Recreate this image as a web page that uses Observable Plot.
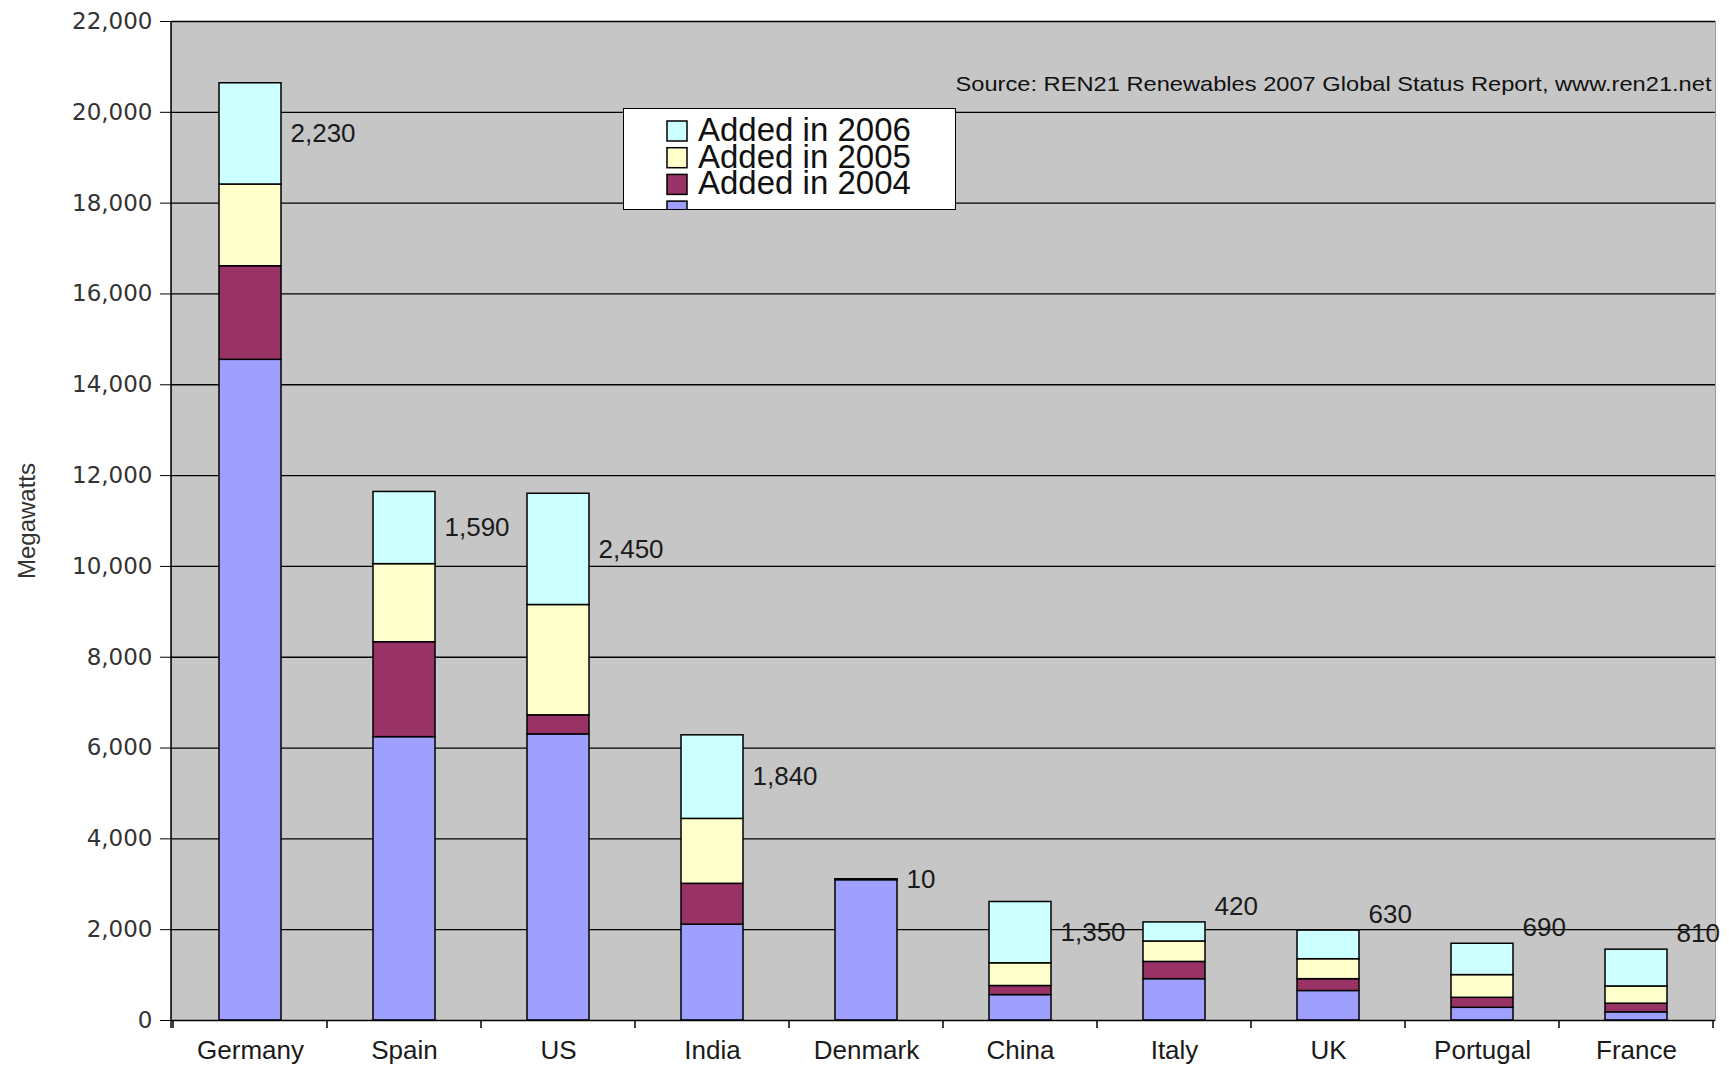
<!DOCTYPE html>
<html><head><meta charset="utf-8">
<script src="https://cdn.jsdelivr.net/npm/d3@7"></script>
<script src="https://cdn.jsdelivr.net/npm/@observablehq/plot@0.6"></script>
<style>
html,body{margin:0;padding:0;background:#fff;}
#wrap{position:relative;width:1729px;height:1067px;overflow:hidden;}
#legend{position:absolute;left:623px;top:108px;width:333px;height:102px;box-sizing:border-box;background:#fff;border:1.5px solid #000;overflow:hidden;}
</style></head>
<body><div id="wrap"><div id="legend"></div></div>
<script>
// ---- data ----
const countries   = ["Germany","Spain","US","India","Denmark","China","Italy","UK","Portugal","France"];
const existing2003 = [14550, 6240, 6300, 2110, 3090, 560, 910, 650, 280, 180];
const added2004    = [ 2060, 2090,  420,  900,   10, 200, 380, 260, 220, 190];
const added2005    = [ 1800, 1720, 2430, 1430,    0, 500, 450, 440, 500, 380];
const added2006    = [ 2230, 1590, 2450, 1840,   10,1350, 420, 630, 690, 810];
const seriesNames  = ["Existing end of 2003","Added in 2004","Added in 2005","Added in 2006"];
const seriesColors = ["#9f9fff","#993366","#ffffcc","#ccffff"];
const yTicks = d3.range(0, 22001, 2000);
const sourceText = "Source: REN21 Renewables 2007 Global Status Report, www.ren21.net";
const yTitle = "Megawatts";

// ---- derived tables ----
const seriesValues = [existing2003, added2004, added2005, added2006];
const rows = [];
countries.forEach((c, i) => seriesValues.forEach((arr, s) => rows.push({country: c, series: seriesNames[s], value: arr[i]})));
const labels = countries.map((c, i) => {
  const total = existing2003[i] + added2004[i] + added2005[i] + added2006[i];
  const mid = total - added2006[i] / 2;
  return {country: c, added: added2006[i], y: total > 2500 ? mid : total + 350};
});

const fmt = d3.format(",");
const W = 1729, H = 1067, ML = 171, MR = 14, MT = 21, MB = 47;

const chart = Plot.plot({
  width: W, height: H,
  marginLeft: ML, marginRight: MR, marginTop: MT, marginBottom: MB,
  style: {background: "transparent", fontFamily: "'Liberation Sans', Arial, sans-serif", fontSize: "26px", color: "#1a1a1a"},
  x: {domain: countries, paddingInner: 0.6, paddingOuter: 0.3, label: null},
  y: {domain: [0, 22000], label: null},
  color: {domain: seriesNames, range: seriesColors},
  marks: [
    Plot.frame({fill: "#c6c6c6", stroke: "#9a9a9a"}),
    Plot.ruleY(yTicks.filter(d => d > 0), {stroke: "#000", strokeWidth: 1.3}),
    Plot.barY(rows, {x: "country", y: "value", fill: "series", stroke: "#000", strokeWidth: 1.5}),
    Plot.ruleY([0], {stroke: "#000", strokeWidth: 1.5}),
    Plot.axisY(yTicks, {tickFormat: fmt, tickSize: 11, tickPadding: 8, fontSize: 23, fontFamily: "'DejaVu Sans', Verdana, sans-serif", stroke: "#000", fill: "#333", label: null}),
    Plot.axisX({tickSize: 0, tickPadding: 20, fontSize: 26, fill: "#1a1a1a", label: null}),
    Plot.text(labels, {x: "country", y: "y", text: d => fmt(d.added), textAnchor: "start", dx: 40, fontSize: 26, fill: "#1a1a1a"}),
    Plot.text([sourceText], {frameAnchor: "top-right", textAnchor: "end", dx: -4, dy: 55, fontSize: 21, fill: "#111"}),
    Plot.text([yTitle], {frameAnchor: "left", textAnchor: "middle", rotate: -90, dx: -144, fontSize: 24, fill: "#333"})
  ]
});

// ---- axis lines and boundary ticks through the scales ----
const svg = d3.select(chart);
const xs = chart.scale("x"), ys = chart.scale("y");
const y0 = ys.apply(0), yTop = ys.apply(22000);
const bounds = countries.map(c => xs.apply(c) + xs.bandwidth / 2 - xs.step / 2);
bounds.push(bounds[bounds.length - 1] + xs.step);
const g = svg.append("g").attr("stroke", "#000").attr("stroke-width", 1.5);
g.selectAll("line.t").data(bounds).join("line")
  .attr("x1", d => d).attr("x2", d => d).attr("y1", y0).attr("y2", y0 + 8);
g.append("line").attr("x1", ML).attr("x2", ML).attr("y1", yTop).attr("y2", y0 + 8);
svg.selectAll("text").filter(function(){ return this.textContent === sourceText; })
  .attr("textLength", 756).attr("lengthAdjust", "spacingAndGlyphs");

document.getElementById("wrap").prepend(chart);

// ---- legend (inside plot, clipped like the original) ----
const leg = d3.select("#legend").append("svg").attr("width", 331).attr("height", 100).style("display", "block");
const order = [3, 2, 1, 0];
order.forEach((s, i) => {
  const top = 12 + i * 26.7;
  leg.append("rect").attr("x", 43).attr("y", top).attr("width", 20).attr("height", 20)
    .attr("fill", seriesColors[s]).attr("stroke", "#000").attr("stroke-width", 1.5);
  if (s > 0) leg.append("text").attr("x", 74).attr("y", top + 20).attr("font-family", "'Liberation Sans', Arial, sans-serif")
    .attr("font-size", 33).attr("fill", "#111").text(seriesNames[s]);
});
</script>
</body></html>
